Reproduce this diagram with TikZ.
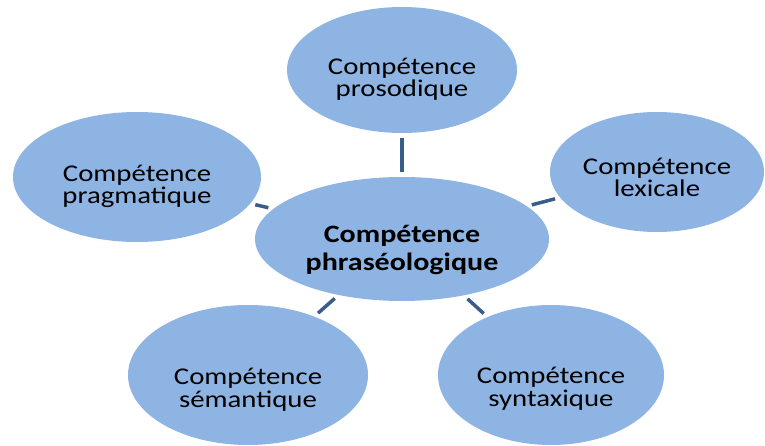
\documentclass[tikz,border=0pt]{standalone}
\usepackage{fontspec}
\setmainfont{Carlito}[FakeStretch=1.2]
\usetikzlibrary{shapes}
\newcommand{\lift}[1]{\rule{0pt}{#1}}
\newcommand{\sink}{\rule[-10pt]{0pt}{10pt}}

\begin{document}
\begin{tikzpicture}[x=1pt,y=-1pt,
    comp/.style={ellipse, fill=cblue, inner sep=0pt, align=center,
      font=\fontsize{24}{22.5}\selectfont},
    core/.style={comp, font=\fontsize{25}{28}\selectfont\bfseries},
    link/.style={draw=dblue, line width=3.5pt, shorten >=5pt, shorten <=5pt}]

\definecolor{cblue}{RGB}{141,180,227}
\definecolor{dblue}{RGB}{56,93,138}

\useasboundingbox (0,0) rectangle (765,446);
\clip (0,0) rectangle (765,446);

\node[core, minimum width=294pt, minimum height=124pt] (phr) at (402,239) {\lift{45.5pt}Compétence\\phraséologique\sink};

\node[comp, minimum width=230pt, minimum height=126pt] (pros) at (402,70) {\lift{41.5pt}Compétence\\prosodique\sink};
\node[comp, minimum width=214pt, minimum height=120pt] (lex) at (657,172) {\lift{37.5pt}Compétence\\lexicale\sink};
\node[comp, minimum width=248pt, minimum height=130pt] (prag) at (137,177) {\lift{41.5pt}Compétence\\pragmatique\sink};
\node[comp, minimum width=240pt, minimum height=140pt] (sem) at (248,375) {\lift{51.5pt}Compétence\\sémantique\sink};
\node[comp, minimum width=226pt, minimum height=140pt] (syn) at (551,375) {\lift{49.5pt}Compétence\\syntaxique\sink};

\draw[link] (phr) -- (pros);
\draw[link] (phr) -- (lex);
\draw[link] (phr) -- (prag);
\draw[link] (phr) -- (sem);
\draw[link] (phr) -- (syn);

\end{tikzpicture}
\end{document}
